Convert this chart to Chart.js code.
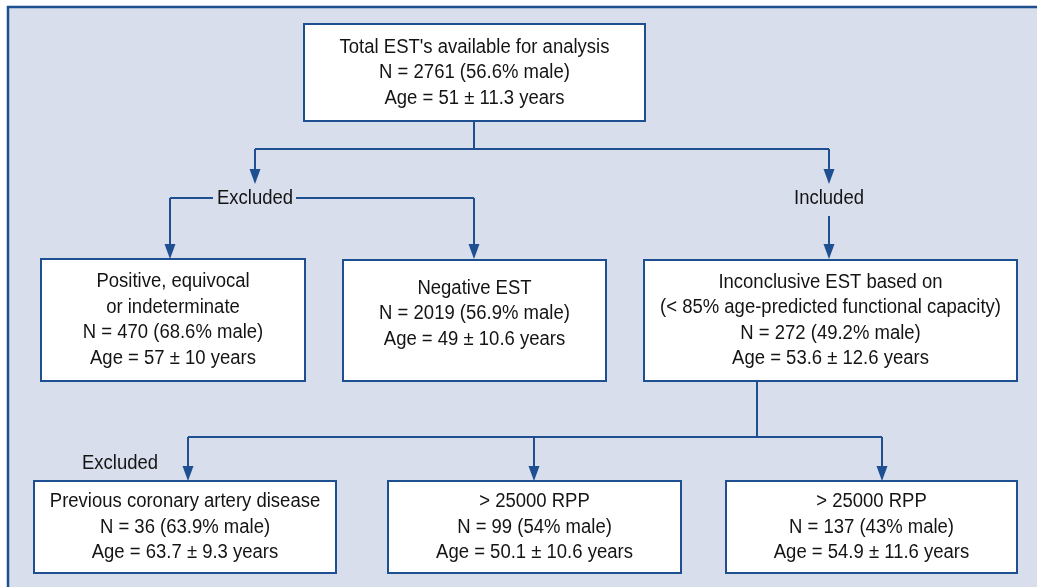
<!DOCTYPE html>
<html>
<head>
<meta charset="utf-8">
<script src="https://cdn.jsdelivr.net/npm/chart.js@4.4.1/dist/chart.umd.min.js"></script>
<style>
  html, body { margin: 0; padding: 0; background: #ffffff; }
  #wrap { width: 1037px; height: 587px; }
</style>
</head>
<body>
<div id="wrap"><canvas id="flow" width="1037" height="587"></canvas></div>
<script>
// Flowchart data
const stageTitles = [
    ["Total EST's available for analysis"],
    ["Positive, equivocal", "or indeterminate"],
    ["Negative EST"],
    ["Inconclusive EST based on", "(< 85% age-predicted functional capacity)"],
    ["Previous coronary artery disease"],
    ["> 25000 RPP"],
    ["> 25000 RPP"]
];
const counts = [2761, 470, 2019, 272, 36, 99, 137];
const malePct = [56.6, 68.6, 56.9, 49.2, 63.9, 54, 43];
const ageMean = [51, 57, 49, 53.6, 63.7, 50.1, 54.9];
const ageSd = [11.3, 10, 10.6, 12.6, 9.3, 10.6, 11.6];
const branchLabels = ['Excluded', 'Included', 'Excluded'];

// Layout (data units of the hidden x/y scales)
const boxes = [
    [304, 24, 645, 121],
    [41, 259, 305, 381],
    [343, 260, 606, 381],
    [644, 260, 1017, 381],
    [34, 481, 336, 573],
    [388, 481, 681, 573],
    [726, 481, 1017, 573]
];
const textShift = [0, 0, -7, 0, 0, 0, 0];
const labelPos = [[255, 198], [829, 198], [120, 463]];
const connectors = [
    [[474, 121], [474, 149]],
    [[255, 149], [829, 149]],
    [[213, 198], [170, 198]],
    [[296, 198], [474, 198]],
    [[757, 381], [757, 437]],
    [[188, 437], [882, 437]]
];
const arrows = [
    [255, 149, 184], [829, 149, 184],
    [170, 198, 259], [474, 198, 259],
    [829, 216, 259],
    [188, 437, 481], [534, 437, 481], [882, 437, 481]
];

const BLUE = '#1d4f91';
const BG = '#d9deec';
const TEXT = '#141414';
const FONT = '20px "Liberation Sans", Arial, sans-serif';
const SQUEEZE = 0.925;

function boxLines(i) {
    return stageTitles[i].concat([
        'N = ' + counts[i] + ' (' + malePct[i] + '% male)',
        'Age = ' + ageMean[i] + ' \u00b1 ' + ageSd[i] + ' years'
    ]);
}

// condensed text: squeeze horizontally around the centre point
function drawText(ctx, t, x, y) {
    ctx.save();
    ctx.translate(x, y);
    ctx.scale(SQUEEZE, 1);
    ctx.fillText(t, 0, 0);
    ctx.restore();
}

const flowPlugin = {
    id: 'flow',
    beforeDraw(chart) {
        const ctx = chart.ctx;
        const xs = chart.scales.x, ys = chart.scales.y;
        const px = v => xs.getPixelForValue(v);
        const py = v => ys.getPixelForValue(v);

        ctx.save();
        // outer panel
        ctx.fillStyle = BG;
        ctx.fillRect(px(8), py(7), px(1045) - px(8), py(600) - py(7));
        ctx.strokeStyle = BLUE;
        ctx.lineWidth = 2.5;
        ctx.strokeRect(px(8), py(7), px(1045) - px(8), py(600) - py(7));

        // connectors
        ctx.lineWidth = 2;
        ctx.strokeStyle = BLUE;
        connectors.forEach(seg => {
            ctx.beginPath();
            ctx.moveTo(px(seg[0][0]), py(seg[0][1]));
            ctx.lineTo(px(seg[1][0]), py(seg[1][1]));
            ctx.stroke();
        });
        arrows.forEach(a => {
            const x = px(a[0]), y0 = py(a[1]), y1 = py(a[2]);
            ctx.beginPath();
            ctx.moveTo(x, y0);
            ctx.lineTo(x, y1 - 12);
            ctx.stroke();
            ctx.fillStyle = BLUE;
            ctx.beginPath();
            ctx.moveTo(x - 5.5, y1 - 15);
            ctx.lineTo(x + 5.5, y1 - 15);
            ctx.lineTo(x, y1);
            ctx.closePath();
            ctx.fill();
        });

        // boxes
        ctx.font = FONT;
        ctx.textAlign = 'center';
        ctx.textBaseline = 'middle';
        boxes.forEach((b, i) => {
            const x1 = px(b[0]), y1 = py(b[1]), x2 = px(b[2]), y2 = py(b[3]);
            ctx.fillStyle = '#ffffff';
            ctx.fillRect(x1, y1, x2 - x1, y2 - y1);
            ctx.strokeStyle = BLUE;
            ctx.lineWidth = 2;
            ctx.strokeRect(x1, y1, x2 - x1, y2 - y1);
            const lines = boxLines(i);
            const lh = 25.5;
            const cy = (y1 + y2) / 2 + textShift[i];
            ctx.fillStyle = TEXT;
            lines.forEach((t, k) => {
                drawText(ctx, t, (x1 + x2) / 2, cy + (k - (lines.length - 1) / 2) * lh);
            });
        });

        // branch labels
        ctx.fillStyle = TEXT;
        branchLabels.forEach((t, i) => {
            drawText(ctx, t, px(labelPos[i][0]), py(labelPos[i][1]));
        });
        ctx.restore();
    }
};

new Chart(document.getElementById('flow'), {
    type: 'scatter',
    data: { datasets: [{ data: [], pointRadius: 0 }] },
    options: {
        responsive: false,
        animation: false,
        layout: { padding: 0 },
        plugins: { legend: { display: false }, tooltip: { enabled: false } },
        scales: {
            x: { type: 'linear', min: 0, max: 1037, display: false },
            y: { type: 'linear', min: 0, max: 587, reverse: true, display: false }
        }
    },
    plugins: [flowPlugin]
});
</script>
</body>
</html>
